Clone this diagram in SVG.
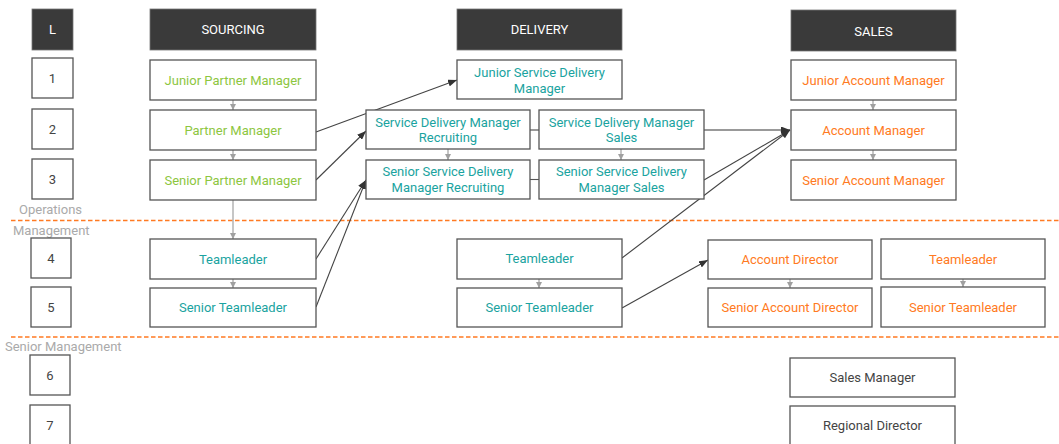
<svg xmlns="http://www.w3.org/2000/svg" width="1059" height="444" viewBox="0 0 1059 444">
<style>
.b{fill:#fff;stroke:#555;stroke-width:1.3}
.h{fill:#3a3a3a;stroke:#777;stroke-width:0.8}
text{font-family:Roboto,"Liberation Sans",sans-serif;font-size:13px;text-anchor:middle;dominant-baseline:central}
.w{fill:#fff}
.n{fill:#444}
.g{fill:#8DC63F}
.t{fill:#1AA3A0}
.o{fill:#FF7A22}
.k{fill:#444}
.lab{fill:#aaa;text-anchor:start}
.ga{stroke:#a0a0a0;stroke-width:1.2;fill:none;marker-end:url(#mg)}
.da{stroke:#444;stroke-width:1.1;fill:none;marker-end:url(#md)}
.dash{stroke:#FF7A22;stroke-width:1.5;stroke-dasharray:4.5 2.5;fill:none}
</style>
<defs>
<marker id="mg" viewBox="0 0 6 6" refX="6" refY="3" markerWidth="6" markerHeight="6" markerUnits="userSpaceOnUse" orient="auto"><path d="M0,0 L6,3 L0,6 z" fill="#a0a0a0"/></marker>
<marker id="md" viewBox="0 0 9 7" refX="9" refY="3.5" markerWidth="9" markerHeight="7" markerUnits="userSpaceOnUse" orient="auto"><path d="M0,0 L9,3.5 L0,7 z" fill="#333"/></marker>
</defs>
<rect width="1059" height="444" fill="#fff"/>

<g id="dividers">
<line class="dash" x1="11" y1="220.5" x2="1059" y2="220.5"/>
<line class="dash" x1="11" y1="337" x2="1059" y2="337"/>
<text class="lab" x="19" y="209">Operations</text>
<text class="lab" x="13" y="230.5">Management</text>
<text class="lab" x="5" y="346">Senior Management</text>
</g>

<g id="connectors">
<line class="ga" x1="233" y1="100" x2="233" y2="110"/>
<line class="ga" x1="233" y1="150" x2="233" y2="160"/>
<line class="ga" x1="233" y1="200" x2="233" y2="239"/>
<line class="ga" x1="233" y1="279" x2="233" y2="288"/>
<line class="ga" x1="448" y1="149" x2="448" y2="160"/>
<line class="ga" x1="621" y1="149" x2="621" y2="160"/>
<line class="ga" x1="539" y1="279" x2="539" y2="288"/>
<line class="ga" x1="873" y1="100" x2="873" y2="110"/>
<line class="ga" x1="873" y1="150" x2="873" y2="160"/>
<line class="ga" x1="790" y1="279" x2="790" y2="288"/>
<line class="ga" x1="963" y1="279" x2="963" y2="287"/>
<line x1="530" y1="130" x2="790" y2="130" stroke="#777" stroke-width="1.4" marker-end="url(#md)"/>
<line x1="530" y1="179.5" x2="539" y2="179.5" stroke="#555" stroke-width="1.1"/>
<line class="da" x1="316" y1="132" x2="457" y2="80"/>
<line class="da" x1="316" y1="180" x2="366" y2="131"/>
<line class="da" x1="316" y1="259" x2="366" y2="180"/>
<line class="da" x1="316" y1="307" x2="366" y2="180"/>
<line class="da" x1="704" y1="180" x2="790" y2="130"/>
<line class="da" x1="622" y1="258" x2="790" y2="130"/>
<line class="da" x1="622" y1="308" x2="708" y2="260"/>
</g>

<g id="levels">
<g id="lvl-L"><rect class="h" x="32" y="9" width="41" height="41"/><text class="w" x="52.5" y="29.5">L</text></g>
<g id="lvl-1"><rect class="b" x="32" y="58" width="41" height="40"/><text class="n" x="52.5" y="78">1</text></g>
<g id="lvl-2"><rect class="b" x="32" y="109" width="41" height="40"/><text class="n" x="52.5" y="129">2</text></g>
<g id="lvl-3"><rect class="b" x="32" y="159" width="41" height="40"/><text class="n" x="52.5" y="179">3</text></g>
<g id="lvl-4"><rect class="b" x="31" y="238" width="40" height="40"/><text class="n" x="51" y="258">4</text></g>
<g id="lvl-5"><rect class="b" x="31" y="287" width="40" height="40"/><text class="n" x="51" y="307">5</text></g>
<g id="lvl-6"><rect class="b" x="30" y="355" width="40" height="40"/><text class="n" x="50" y="375">6</text></g>
<g id="lvl-7"><rect class="b" x="30" y="405" width="40" height="40"/><text class="n" x="50" y="425">7</text></g>
</g>

<g id="sourcing">
<g id="sourcing-header"><rect class="h" x="150" y="9" width="166" height="41"/><text class="w" x="233" y="29.5">SOURCING</text></g>
<g id="junior-partner-manager"><rect class="b" x="150" y="60" width="166" height="40"/><text class="g" x="233" y="80">Junior Partner Manager</text></g>
<g id="partner-manager"><rect class="b" x="150" y="110" width="166" height="40"/><text class="g" x="233" y="130">Partner Manager</text></g>
<g id="senior-partner-manager"><rect class="b" x="150" y="160" width="166" height="40"/><text class="g" x="233" y="180">Senior Partner Manager</text></g>
<g id="sourcing-teamleader"><rect class="b" x="150" y="239" width="166" height="40"/><text class="t" x="233" y="259">Teamleader</text></g>
<g id="sourcing-senior-teamleader"><rect class="b" x="150" y="288" width="166" height="39"/><text class="t" x="233" y="307.5">Senior Teamleader</text></g>
</g>

<g id="delivery">
<g id="delivery-header"><rect class="h" x="457" y="9" width="165" height="41"/><text class="w" x="539.5" y="29.5">DELIVERY</text></g>
<g id="junior-sdm"><rect class="b" x="457" y="60" width="165" height="39"/><text class="t" x="539.5" y="72">Junior Service Delivery</text><text class="t" x="539.5" y="88">Manager</text></g>
<g id="sdm-recruiting"><rect class="b" x="366" y="110" width="164" height="39"/><text class="t" x="448" y="122">Service Delivery Manager</text><text class="t" x="448" y="137">Recruiting</text></g>
<g id="sdm-sales"><rect class="b" x="539" y="110" width="165" height="39"/><text class="t" x="621.5" y="122">Service Delivery Manager</text><text class="t" x="621.5" y="137">Sales</text></g>
<g id="senior-sdm-recruiting"><rect class="b" x="366" y="160" width="164" height="39"/><text class="t" x="448" y="171.5">Senior Service Delivery</text><text class="t" x="448" y="187.5">Manager Recruiting</text></g>
<g id="senior-sdm-sales"><rect class="b" x="539" y="160" width="165" height="39"/><text class="t" x="621.5" y="171.5">Senior Service Delivery</text><text class="t" x="621.5" y="187.5">Manager Sales</text></g>
<g id="delivery-teamleader"><rect class="b" x="457" y="239" width="165" height="40"/><text class="t" x="539.5" y="258.5">Teamleader</text></g>
<g id="delivery-senior-teamleader"><rect class="b" x="457" y="288" width="165" height="39"/><text class="t" x="539.5" y="307.5">Senior Teamleader</text></g>
</g>

<g id="sales">
<g id="sales-header"><rect class="h" x="791" y="10" width="165" height="41"/><text class="w" x="873.5" y="31">SALES</text></g>
<g id="junior-account-manager"><rect class="b" x="791" y="60" width="165" height="40"/><text class="o" x="873.5" y="80">Junior Account Manager</text></g>
<g id="account-manager"><rect class="b" x="791" y="110" width="165" height="40"/><text class="o" x="873.5" y="130">Account Manager</text></g>
<g id="senior-account-manager"><rect class="b" x="791" y="160" width="165" height="40"/><text class="o" x="873.5" y="180">Senior Account Manager</text></g>
<g id="account-director"><rect class="b" x="708" y="240" width="164" height="39"/><text class="o" x="790" y="259.5">Account Director</text></g>
<g id="senior-account-director"><rect class="b" x="708" y="288" width="164" height="39"/><text class="o" x="790" y="307.5">Senior Account Director</text></g>
<g id="sales-teamleader"><rect class="b" x="881" y="239" width="164" height="40"/><text class="o" x="963" y="259">Teamleader</text></g>
<g id="sales-senior-teamleader"><rect class="b" x="881" y="287" width="164" height="40"/><text class="o" x="963" y="307">Senior Teamleader</text></g>
<g id="sales-manager"><rect class="b" x="790" y="358" width="165" height="39"/><text class="k" x="872.5" y="377.5">Sales Manager</text></g>
<g id="regional-director"><rect class="b" x="790" y="406" width="165" height="40"/><text class="k" x="872.5" y="425.5">Regional Director</text></g>
</g>
</svg>
